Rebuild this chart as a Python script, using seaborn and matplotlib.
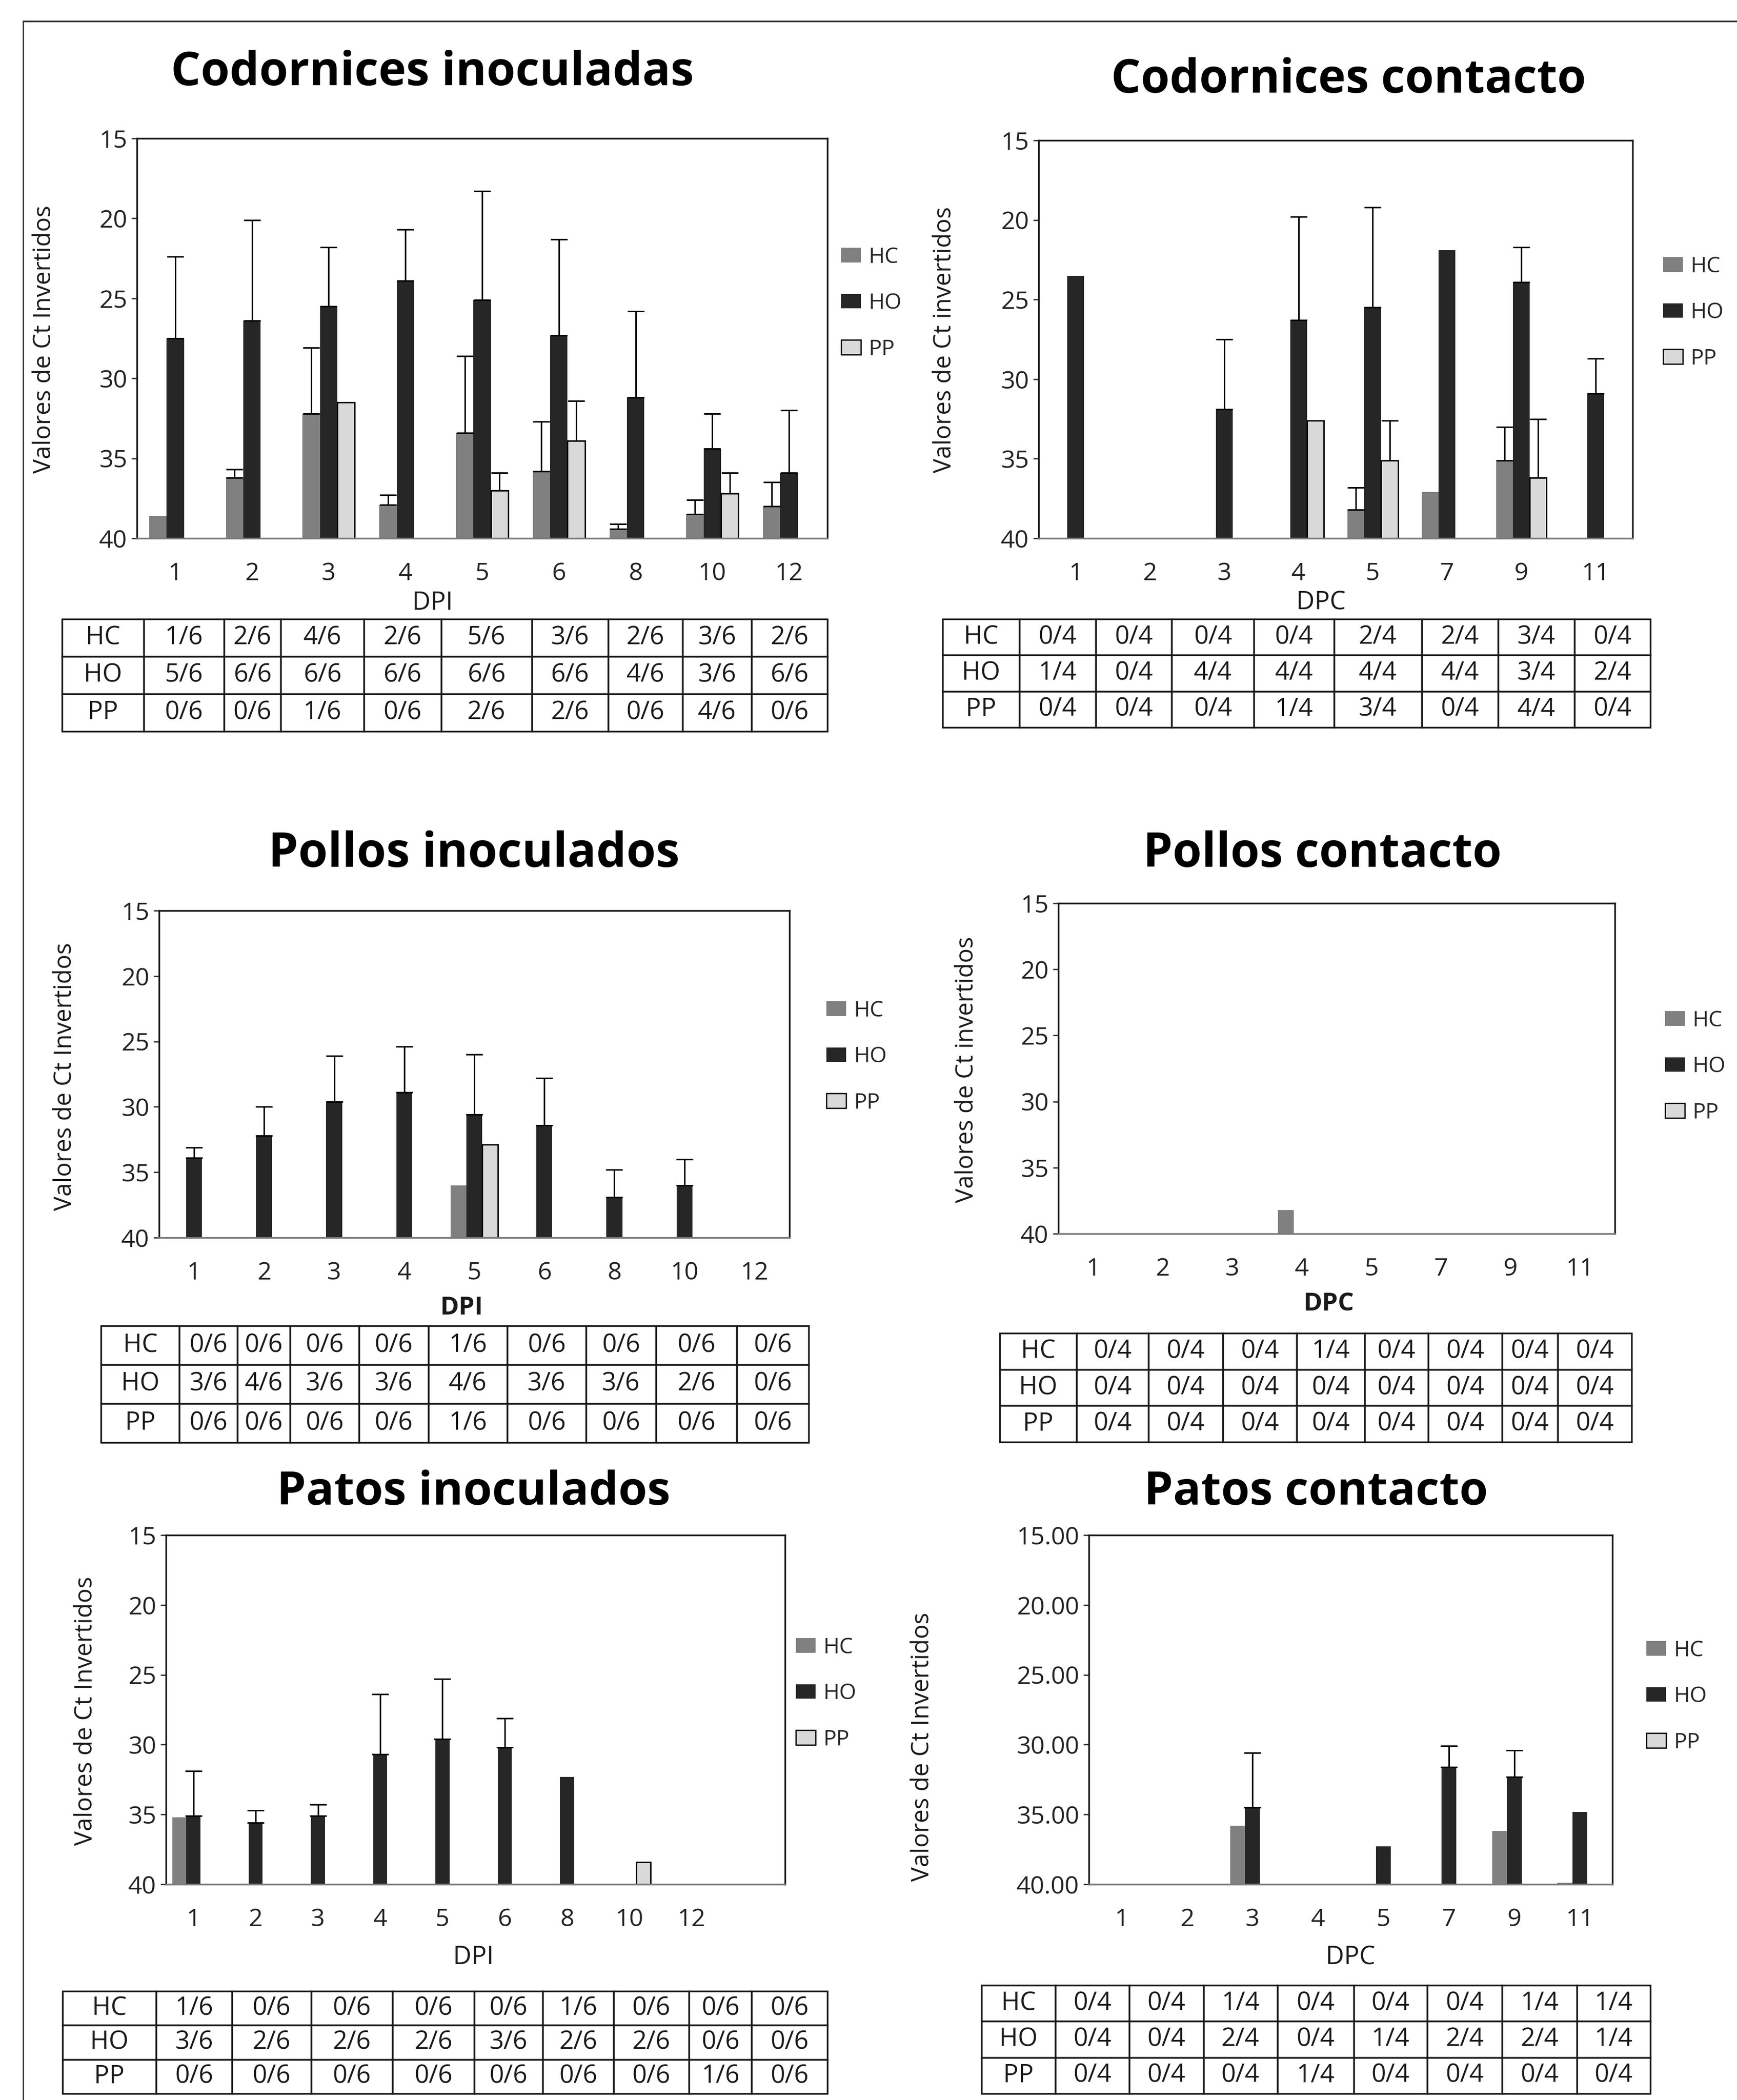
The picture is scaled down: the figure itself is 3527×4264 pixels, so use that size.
import numpy as np
import pandas as pd
import matplotlib
matplotlib.use("Agg")
import matplotlib.pyplot as plt
from matplotlib.patches import Patch
from matplotlib.lines import Line2D
import seaborn as sns

nan = np.nan

# ---------------- DATA ----------------
LEVELS = ["HC", "HO", "PP"]

# Codornices inoculadas
p1_days = ["1", "2", "3", "4", "5", "6", "8", "10", "12"]
p1_hc = [38.6, 36.2, 32.2, 37.9, 33.4, 35.8, 39.4, 38.5, 38.0]
p1_hc_sd = [0.0, 0.5, 4.1, 0.6, 4.8, 3.1, 0.3, 0.9, 1.5]
p1_ho = [27.5, 26.4, 25.5, 23.9, 25.1, 27.3, 31.2, 34.4, 35.9]
p1_ho_sd = [5.1, 6.3, 3.7, 3.2, 6.8, 6.0, 5.4, 2.2, 3.9]
p1_pp = [nan, nan, 31.5, nan, 37.0, 33.9, nan, 37.2, nan]
p1_pp_sd = [0.0, 0.0, 0.0, 0.0, 1.1, 2.5, 0.0, 1.3, 0.0]
p1_tab_hc = ["1/6", "2/6", "4/6", "2/6", "5/6", "3/6", "2/6", "3/6", "2/6"]
p1_tab_ho = ["5/6", "6/6", "6/6", "6/6", "6/6", "6/6", "4/6", "3/6", "6/6"]
p1_tab_pp = ["0/6", "0/6", "1/6", "0/6", "2/6", "2/6", "0/6", "4/6", "0/6"]

# Codornices contacto
p2_days = ["1", "2", "3", "4", "5", "7", "9", "11"]
p2_hc = [nan, nan, nan, nan, 38.2, 37.1, 35.1, nan]
p2_hc_sd = [0.0, 0.0, 0.0, 0.0, 1.4, 0.0, 2.1, 0.0]
p2_ho = [23.5, nan, 31.9, 26.3, 25.5, 21.9, 23.9, 30.9]
p2_ho_sd = [0.0, 0.0, 4.4, 6.5, 6.3, 0.0, 2.2, 2.2]
p2_pp = [nan, nan, nan, 32.6, 35.1, nan, 36.2, nan]
p2_pp_sd = [0.0, 0.0, 0.0, 0.0, 2.5, 0.0, 3.7, 0.0]
p2_tab_hc = ["0/4", "0/4", "0/4", "0/4", "2/4", "2/4", "3/4", "0/4"]
p2_tab_ho = ["1/4", "0/4", "4/4", "4/4", "4/4", "4/4", "3/4", "2/4"]
p2_tab_pp = ["0/4", "0/4", "0/4", "1/4", "3/4", "0/4", "4/4", "0/4"]

# Pollos inoculados
p3_days = ["1", "2", "3", "4", "5", "6", "8", "10", "12"]
p3_hc = [nan, nan, nan, nan, 36.0, nan, nan, nan, nan]
p3_hc_sd = [0.0] * 9
p3_ho = [33.9, 32.2, 29.6, 28.9, 30.6, 31.4, 36.9, 36.0, nan]
p3_ho_sd = [0.8, 2.2, 3.5, 3.5, 4.6, 3.6, 2.1, 2.0, 0.0]
p3_pp = [nan, nan, nan, nan, 32.9, nan, nan, nan, nan]
p3_pp_sd = [0.0] * 9
p3_tab_hc = ["0/6", "0/6", "0/6", "0/6", "1/6", "0/6", "0/6", "0/6", "0/6"]
p3_tab_ho = ["3/6", "4/6", "3/6", "3/6", "4/6", "3/6", "3/6", "2/6", "0/6"]
p3_tab_pp = ["0/6", "0/6", "0/6", "0/6", "1/6", "0/6", "0/6", "0/6", "0/6"]

# Pollos contacto
p4_days = ["1", "2", "3", "4", "5", "7", "9", "11"]
p4_hc = [nan, nan, nan, 38.2, nan, nan, nan, nan]
p4_hc_sd = [0.0] * 8
p4_ho = [nan] * 8
p4_ho_sd = [0.0] * 8
p4_pp = [nan] * 8
p4_pp_sd = [0.0] * 8
p4_tab_hc = ["0/4", "0/4", "0/4", "1/4", "0/4", "0/4", "0/4", "0/4"]
p4_tab_ho = ["0/4", "0/4", "0/4", "0/4", "0/4", "0/4", "0/4", "0/4"]
p4_tab_pp = ["0/4", "0/4", "0/4", "0/4", "0/4", "0/4", "0/4", "0/4"]

# Patos inoculados
p5_days = ["1", "2", "3", "4", "5", "6", "8", "10", "12"]
p5_hc = [35.2, nan, nan, nan, nan, nan, nan, nan, nan]
p5_hc_sd = [0.0] * 9
p5_ho = [35.1, 35.6, 35.1, 30.7, 29.6, 30.2, 32.3, nan, nan]
p5_ho_sd = [3.2, 0.9, 0.8, 4.3, 4.3, 2.1, 0.0, 0.0, 0.0]
p5_pp = [nan, nan, nan, nan, nan, nan, nan, 38.4, nan]
p5_pp_sd = [0.0] * 9
p5_tab_hc = ["1/6", "0/6", "0/6", "0/6", "0/6", "1/6", "0/6", "0/6", "0/6"]
p5_tab_ho = ["3/6", "2/6", "2/6", "2/6", "3/6", "2/6", "2/6", "0/6", "0/6"]
p5_tab_pp = ["0/6", "0/6", "0/6", "0/6", "0/6", "0/6", "0/6", "1/6", "0/6"]

# Patos contacto
p6_days = ["1", "2", "3", "4", "5", "7", "9", "11"]
p6_hc = [nan, nan, 35.8, nan, nan, nan, 36.2, 39.9]
p6_hc_sd = [0.0] * 8
p6_ho = [nan, nan, 34.5, nan, 37.3, 31.6, 32.3, 34.8]
p6_ho_sd = [0.0, 0.0, 3.9, 0.0, 0.0, 1.5, 1.9, 0.0]
p6_pp = [nan] * 8
p6_pp_sd = [0.0] * 8
p6_tab_hc = ["0/4", "0/4", "1/4", "0/4", "0/4", "0/4", "1/4", "1/4"]
p6_tab_ho = ["0/4", "0/4", "2/4", "0/4", "1/4", "2/4", "2/4", "1/4"]
p6_tab_pp = ["0/4", "0/4", "0/4", "1/4", "0/4", "0/4", "0/4", "0/4"]

titles = ["Codornices inoculadas", "Codornices contacto", "Pollos inoculados",
          "Pollos contacto", "Patos inoculados", "Patos contacto"]
ylabels = ["Valores de Ct Invertidos", "Valores de Ct invertidos", "Valores de Ct Invertidos",
           "Valores de Ct invertidos", "Valores de Ct Invertidos", "Valores de Ct Invertidos"]
xlabels = ["DPI", "DPC", "DPI", "DPC", "DPI", "DPC"]
ytick_values = [40, 35, 30, 25, 20, 15]

# ---------------- STYLE / LAYOUT ----------------
sns.set_style("white")
plt.rcParams["font.family"] = ["Open Sans", "DejaVu Sans"]

W, H = 3527, 4264
fig = plt.figure(figsize=(W / 100, H / 100), dpi=100)
fig.patch.set_facecolor("white")

COLORS = {"HC": "#808080", "HO": "#262626", "PP": "#d9d9d9"}
BASE = 40.0

def fx(px):
    return px / W

def fy(py):
    return 1 - py / H

layout = [
    dict(ax=(278, 281, 1680, 1093), title=(878, 173, 1074), ylab=(90, 689, 544),
         xlab=(878, 1224), bold_x=False, leg=(1708, 616), tab=(126, 1257, 1680, 1485),
         cols=[112, 260, 405, 508, 658, 798, 962, 1100, 1235, 1360, 1497], xlim=None, fmt="{:d}"),
    dict(ax=(2109, 285, 3315, 1093), title=(2738, 188, 975), ylab=(1918, 690, 541),
         xlab=(2682, 1224), bold_x=False, leg=(3377, 635), tab=(1914, 1257, 3351, 1477),
         cols=[137, 275, 413, 550, 698, 842, 1000, 1138, 1275, 1412], xlim=None, fmt="{:d}"),
    dict(ax=(323, 1849, 1603, 2513), title=(962, 1760, 844), ylab=(132, 2186, 545),
         xlab=(937, 2656), bold_x=True, leg=(1678, 2146), tab=(205, 2692, 1642, 2929),
         cols=[183, 325, 430, 525, 650, 775, 918, 1060, 1187, 1333, 1463], xlim=None, fmt="{:d}"),
    dict(ax=(2149, 1834, 3279, 2505), title=(2685, 1760, 736), ylab=(1963, 2172, 540),
         xlab=(2698, 2648), bold_x=True, leg=(3381, 2166), tab=(2030, 2707, 3313, 2928),
         cols=[240, 378, 508, 642, 775, 897, 1012, 1145, 1245, 1378], xlim=None, fmt="{:d}"),
    dict(ax=(337, 3117, 1594, 3826), title=(962, 3055, 807), ylab=(174, 3474, 546),
         xlab=(961, 3975), bold_x=False, leg=(1616, 3439), tab=(127, 4043, 1680, 4251),
         cols=[113, 282, 420, 563, 710, 858, 982, 1110, 1247, 1360, 1497], xlim=(-0.44, 9.5), fmt="{:d}"),
    dict(ax=(2211, 3117, 3274, 3826), title=(2672, 3055, 705), ylab=(1873, 3547, 546),
         xlab=(2742, 3975), bold_x=False, leg=(3343, 3445), tab=(1993, 4031, 3351, 4251),
         cols=[207, 340, 473, 607, 740, 878, 1010, 1145, 1280, 1412], xlim=None, fmt="{:.2f}"),
]

panels = [
    (p1_days, (p1_hc, p1_ho, p1_pp), (p1_hc_sd, p1_ho_sd, p1_pp_sd), (p1_tab_hc, p1_tab_ho, p1_tab_pp)),
    (p2_days, (p2_hc, p2_ho, p2_pp), (p2_hc_sd, p2_ho_sd, p2_pp_sd), (p2_tab_hc, p2_tab_ho, p2_tab_pp)),
    (p3_days, (p3_hc, p3_ho, p3_pp), (p3_hc_sd, p3_ho_sd, p3_pp_sd), (p3_tab_hc, p3_tab_ho, p3_tab_pp)),
    (p4_days, (p4_hc, p4_ho, p4_pp), (p4_hc_sd, p4_ho_sd, p4_pp_sd), (p4_tab_hc, p4_tab_ho, p4_tab_pp)),
    (p5_days, (p5_hc, p5_ho, p5_pp), (p5_hc_sd, p5_ho_sd, p5_pp_sd), (p5_tab_hc, p5_tab_ho, p5_tab_pp)),
    (p6_days, (p6_hc, p6_ho, p6_pp), (p6_hc_sd, p6_ho_sd, p6_pp_sd), (p6_tab_hc, p6_tab_ho, p6_tab_pp)),
]

renderer = fig.canvas.get_renderer()

def fit_text(t, target, use_height=False):
    bb = t.get_window_extent(renderer)
    cur = bb.height if use_height else bb.width
    if cur > 0:
        t.set_fontsize(t.get_fontsize() * target / cur)

TICK_FS = 36
TAB_FS = 37
LEG_FS = 32
XLAB_FS = 37

for idx, ((days, series, sds, tab), lay) in enumerate(zip(panels, layout)):
    x0, y0, x1, y1 = lay["ax"]
    ax = fig.add_axes([fx(x0), fy(y1), fx(x1) - fx(x0), fy(y0) - fy(y1)])

    rows = []
    for lev, vals, sdv in zip(LEVELS, series, sds):
        for d, v, s in zip(days, vals, sdv):
            rows.append({"day": d, "serie": lev, "ct": v, "sd": s})
    df = pd.DataFrame(rows)
    df["h"] = BASE - df["ct"].fillna(BASE)

    sns.barplot(data=df, x="day", y="h", hue="serie", order=days, hue_order=LEVELS,
                palette=COLORS, width=0.68, errorbar=None, saturation=1, legend=False,
                linewidth=0, ax=ax)

    sd_lookup = {(r.serie, r.day): r.sd for r in df.itertuples()}
    for p in list(ax.patches):
        bw = p.get_width()
        cx = p.get_x() + bw / 2
        i = int(round(cx))
        k = int(round((cx - i) / bw)) + 1
        if not (0 <= i < len(days)) or not (0 <= k < 3):
            continue
        lev = LEVELS[k]
        h = p.get_height()
        if lev == "PP" and h > 0:
            p.set_edgecolor("black")
            p.set_linewidth(2.0)
        s = sd_lookup.get((lev, days[i]), 0.0)
        if h > 0 and s > 0:
            ax.errorbar([cx], [h], yerr=[[0], [s]], fmt="none", ecolor="black",
                        elinewidth=2.2, capsize=12, capthick=2.2, zorder=5)

    ax.set_ylim(0, BASE - 15)
    ax.set_yticks([BASE - v for v in ytick_values])
    ax.set_yticklabels([lay["fmt"].format(v) for v in ytick_values])
    if lay["xlim"] is not None:
        ax.set_xlim(*lay["xlim"])
    else:
        ax.set_xlim(-0.5, len(days) - 0.5)
    ax.set_xlabel("")
    ax.set_ylabel("")
    ax.tick_params(axis="y", which="both", left=True, length=8, width=1.8, direction="out",
                   labelsize=TICK_FS, pad=6, colors="#222222")
    ax.tick_params(axis="x", length=0, labelsize=TICK_FS, pad=34, colors="#222222")
    for sp in ax.spines.values():
        sp.set_visible(True)
        sp.set_color("#1a1a1a")
        sp.set_linewidth(2.5)
    ax.spines["bottom"].set_color("#7a7a7a")

    handles = [Patch(facecolor=COLORS[l], edgecolor=("black" if l == "PP" else COLORS[l]),
                     linewidth=(1.8 if l == "PP" else 0)) for l in LEVELS]
    lx, lyc = lay["leg"]
    ax.legend(handles, LEVELS, loc="center left", bbox_to_anchor=(fx(lx), fy(lyc)),
              bbox_transform=fig.transFigure, frameon=False, fontsize=LEG_FS,
              handlelength=0.9, handleheight=0.65, handletextpad=0.35,
              labelspacing=1.1, borderpad=0, borderaxespad=0)

    # title
    tx, tyb, tw = lay["title"]
    t = fig.text(fx(tx), fy(tyb), titles[idx], ha="center", va="baseline",
                 fontsize=60, fontweight="bold", color="black")
    fit_text(t, tw * 0.99)

    # y label
    yx, yy, yl = lay["ylab"]
    t = fig.text(fx(yx), fy(yy), ylabels[idx], rotation=90, ha="center",
                 va="center", fontsize=34, color="#1a1a1a")
    fit_text(t, yl, use_height=True)

    # x label
    xx, xy = lay["xlab"]
    fig.text(fx(xx), fy(xy), xlabels[idx], ha="center", va="center",
             fontsize=XLAB_FS, fontweight=("bold" if lay["bold_x"] else "normal"), color="#1a1a1a")

    # table
    tx0, ty0, tx1, ty1 = lay["tab"]
    tax = fig.add_axes([fx(tx0), fy(ty1), fx(tx1) - fx(tx0), fy(ty0) - fy(ty1)])
    tax.axis("off")
    cb = np.array(lay["cols"], dtype=float)
    widths = np.diff(cb) / (cb[-1] - cb[0])
    cell_text = [[lev] + list(r) for lev, r in zip(LEVELS, tab)]
    tbl = tax.table(cellText=cell_text, colWidths=list(widths), bbox=[0, 0, 1, 1],
                    cellLoc="center")
    tbl.auto_set_font_size(False)
    tbl.set_fontsize(TAB_FS)
    for cell in tbl.get_celld().values():
        cell.set_linewidth(2.5)
        cell.set_edgecolor("#1a1a1a")
        cell.get_text().set_color("#1a1a1a")

# outer frame lines (top and left)
fig.add_artist(Line2D([fx(47), 1.0], [fy(43), fy(43)], transform=fig.transFigure,
                      color="#333333", linewidth=2.5))
fig.add_artist(Line2D([fx(47), fx(47)], [fy(43), 0.0], transform=fig.transFigure,
                      color="#333333", linewidth=2.0))

fig.savefig("out.png", dpi=100, facecolor="white")
